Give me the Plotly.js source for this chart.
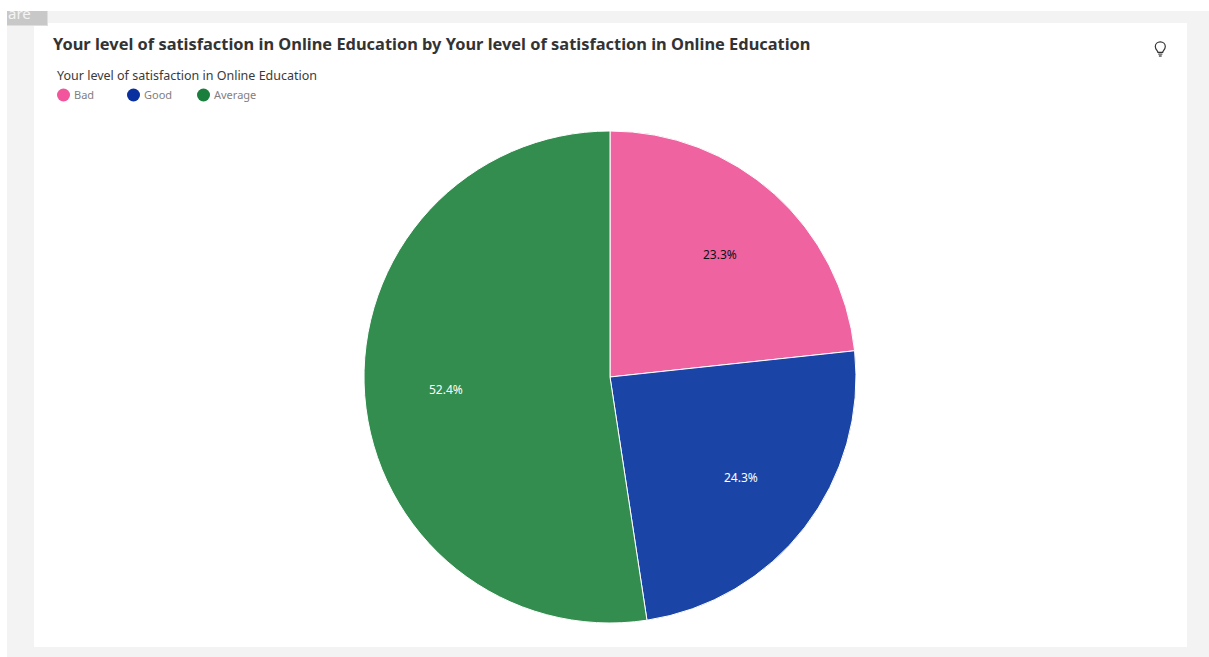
<!DOCTYPE html>
<html>
<head>
<meta charset="utf-8">
<script src="https://cdn.plot.ly/plotly-3.0.1.min.js"></script>
<style>
html,body{margin:0;padding:0;background:#fff;overflow:hidden}
#wrap{position:relative;width:1209px;height:657px}
#chart{position:absolute;left:0;top:0;width:1209px;height:657px}
#bulb{position:absolute;left:1152px;top:40px}
</style>
</head>
<body>
<div id="wrap">
<div id="chart"></div>
<svg id="bulb" width="17" height="18" viewBox="0 0 17 18" fill="none">
<path d="M5.9 12.3 C5.8 10.8 3.3 9.5 3.3 6.6 C3.3 3.8 5.6 1.8 8.3 1.8 C11 1.8 13.3 3.8 13.3 6.6 C13.3 9.5 10.8 10.8 10.7 12.3 Z" stroke="#333" stroke-width="1.2"/>
<path d="M6.2 14.2 H10.4 M6.9 16 H9.7" stroke="#555" stroke-width="1.3"/>
</svg>
</div>
<script>
const W = 1209, H = 657;
const categories = ["Bad", "Good", "Average"];
const shares = [23.3, 24.3, 52.4];
const sliceColors = ["#F063A1", "#1A44A6", "#328D4E"];
const swatchColors = ["#F2559C", "#0A2F9F", "#1A7F3C"];
const labelColors = ["#111111", "#ffffff", "#ffffff"];
const titleText = "Your level of satisfaction in Online Education by Your level of satisfaction in Online Education";
const legendTitle = "Your level of satisfaction in Online Education";
const swatchX = [63.5, 133.5, 203.5];
const fontName = '"Noto Sans", "Open Sans", sans-serif';

const px = x => x / W;
const py = y => 1 - y / H;
const rect = (x0, y0, x1, y1, color) => ({type: "rect", xref: "paper", yref: "paper", layer: "below",
  x0: px(x0), x1: px(x1), y0: py(y0), y1: py(y1), fillcolor: color, line: {width: 0}});

const shapes = [
  rect(7, 11, 1209, 657, "#F3F3F3"),
  rect(34, 23, 1187, 647, "#FFFFFF"),
  rect(7, 11, 48, 26, "#DEDEDE"),
  rect(7, 11, 47, 25, "#C8C8C8")
];
categories.forEach((c, i) => {
  shapes.push({type: "circle", xref: "paper", yref: "paper",
    x0: px(swatchX[i] - 6.5), x1: px(swatchX[i] + 6.5), y0: py(95 + 6.5), y1: py(95 - 6.5),
    fillcolor: swatchColors[i], line: {width: 0}});
});

const annotations = [
  {text: "are", x: px(6), y: py(13), xanchor: "left", yanchor: "middle", xref: "paper", yref: "paper",
   showarrow: false, font: {family: fontName, size: 15, color: "#F4F4F4"}},
  {text: legendTitle, x: px(55), y: py(75.5), xanchor: "left", yanchor: "middle", xref: "paper", yref: "paper",
   showarrow: false, font: {family: fontName, size: 12.5, color: "#3A3A3A"}}
];
categories.forEach((c, i) => {
  annotations.push({text: c, x: px(swatchX[i] + 8), y: py(95), xanchor: "left", yanchor: "middle",
    xref: "paper", yref: "paper", showarrow: false, font: {family: fontName, size: 11, color: "#7F7F7F"}});
});

// Slice labels sit on each slice's mid-angle at two thirds of the radius.
const pieCx = 610, pieCy = 377, pieR = 246, labelRadius = 0.67 * pieR;
const total = shares.reduce((a, b) => a + b, 0);
let running = 0;
shares.forEach((v, i) => {
  const mid = (running + v / 2) / total * 2 * Math.PI;
  running += v;
  annotations.push({text: v.toFixed(1) + "%",
    x: px(pieCx + labelRadius * Math.sin(mid)), y: py(pieCy - labelRadius * Math.cos(mid)),
    xanchor: "center", yanchor: "middle", xref: "paper", yref: "paper", showarrow: false,
    font: {family: fontName, size: 12, color: labelColors[i]}});
});

Plotly.newPlot("chart", [{
  type: "pie",
  labels: categories,
  values: shares,
  sort: false,
  direction: "clockwise",
  rotation: 0,
  textinfo: "none",
  marker: {colors: sliceColors, line: {color: "#FFFFFF", width: 1}},
  domain: {x: [px(364), px(856)], y: [py(623), py(131)]},
  hoverinfo: "label+percent"
}], {
  width: W, height: H,
  margin: {l: 0, r: 0, t: 0, b: 0},
  paper_bgcolor: "#FFFFFF",
  showlegend: false,
  title: {text: "<b>" + titleText + "</b>", x: px(53), xanchor: "left", xref: "paper",
    y: py(44), yanchor: "middle", yref: "paper",
    font: {family: fontName, size: 16.4, color: "#333333"}},
  shapes, annotations
}, {displayModeBar: false, responsive: false});
</script>
</body>
</html>
